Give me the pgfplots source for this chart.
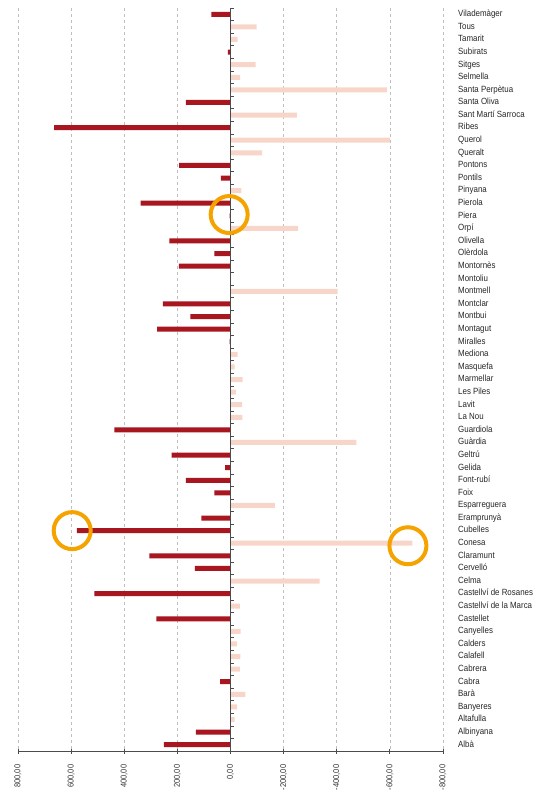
\documentclass[border=0pt]{standalone}
\usepackage{pgfplots}
\pgfplotsset{compat=1.18}
\usepackage{fontspec}
\setmainfont{Liberation Sans}[FakeStretch=0.88]
\definecolor{darkred}{RGB}{168,22,32}
\definecolor{pinkbar}{RGB}{247,213,201}
\definecolor{ring}{RGB}{245,163,0}
\begin{document}
\begin{tikzpicture}
\useasboundingbox (-18pt,-45pt) rectangle (525pt,751pt);
\begin{axis}[
 scale only axis, width=425pt, height=743pt,
 x dir=reverse, xmin=-800, xmax=800,
 y dir=reverse, ymin=-0.5, ymax=58.5,
 xtick={-800,-600,...,800},
 ytick={0,...,58},
 yticklabels={Vilademàger,Tous,Tamarit,Subirats,Sitges,Selmella,Santa Perpètua,Santa Oliva,Sant Martí Sarroca,Ribes,Querol,Queralt,Pontons,Pontils,Pinyana,Pierola,Piera,Orpí,Olivella,Olèrdola,Montornès,Montoliu,Montmell,Montclar,Montbui,Montagut,Miralles,Mediona,Masquefa,Marmellar,Les Piles,Lavit,La Nou,Guardiola,Guàrdia,Geltrú,Gelida,Font-rubí,Foix,Esparreguera,Eramprunyà,Cubelles,Conesa,Claramunt,Cervelló,Celma,Castellví de Rosanes,Castellví de la Marca,Castellet,Canyelles,Calders,Calafell,Cabrera,Cabra,Barà,Banyeres,Altafulla,Albinyana,Albà},
 axis x line*=bottom,
 axis y line*=right,
 y axis line style={draw=none},
 ytick style={draw=none},
 yticklabel style={font=\fontsize{9}{10}\selectfont, text=black!85, anchor=west, inner sep=0pt, xshift=15pt, text height=6.3pt, text depth=1.6pt},
 xticklabel style={font=\fontsize{8.5}{10}\selectfont, text=black!80, rotate=90, anchor=east, inner sep=0pt},
 xticklabel shift=11pt,
 x axis line style={draw=black!70, line width=0.8pt, -},
 xtick style={draw=black!70, line width=0.8pt},
 xtick align=center,
 major tick length=5pt,
 xmajorgrids, grid style={dashed, draw=black!25, line width=0.5pt},
 /pgf/number format/.cd, fixed, fixed zerofill, precision=2, use comma, 1000 sep={}, assume math mode=true,
]
\addplot[xbar, bar width=5pt, bar shift=0pt, fill=darkred, draw=none] coordinates {
(72,0) (10,3) (168,7) (664,9) (193,12) (36,13) (338,15) (3,16) (230,18) (61,19) (194,20)
(255,23) (151,24) (276,25) (3,26) (437,33) (222,35) (20,36) (168,37) (61,38) (110,40)
(578,41) (305,43) (134,44) (512,46) (279,48) (39,53) (130,57) (251,58)
};
\addplot[xbar, bar width=5pt, bar shift=0pt, fill=pinkbar, draw=none] coordinates {
(-98,1) (-27,2) (-95,4) (-36,5) (-589,6) (-250,8) (-601,10) (-119,11) (-41,14) (-255,17)
(-403,22) (-27,27) (-16,28) (-46,29) (-20,30) (-44,31) (-45,32) (-474,34) (-167,39)
(-685,42) (-336,45) (-35,47) (-38,49) (-25,50) (-37,51) (-35,52) (-56,54) (-25,55) (-16,56)
};
\draw[black!70, line width=0.8pt] (axis cs:0,-0.5) -- (axis cs:0,58.5);
\pgfplotsinvokeforeach{0,...,59}{\draw[black!70, line width=0.6pt] (axis cs:0,{#1-0.5}) -- (axis cs:-15,{#1-0.5});}
\addplot[only marks, mark=o, mark size=18.5pt, mark options={line width=4pt, draw=ring}] coordinates {
(5,15.9) (596,41.0) (-668,42.2)
};
\end{axis}
\end{tikzpicture}
\end{document}
